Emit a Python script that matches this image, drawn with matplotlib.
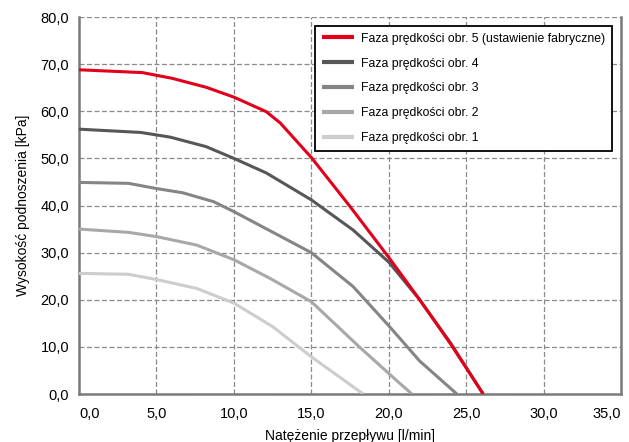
import matplotlib
matplotlib.use("Agg")
import matplotlib.pyplot as plt
from matplotlib.ticker import FuncFormatter

plt.rcParams['font.family'] = ['Liberation Sans', 'DejaVu Sans']

# Flow [l/min] and head [kPa] for each speed step
x5 = [0, 4.1, 6.0, 8.2, 10.0, 12.1, 13.0, 15.0, 17.5, 20.0, 22.0, 24.0, 26.1]
y5 = [68.8, 68.2, 67.0, 65.1, 63.0, 59.9, 57.5, 50.2, 39.8, 29.0, 20.0, 10.6, 0.0]

x4 = [0, 4.0, 5.9, 8.2, 10.0, 12.1, 15.0, 17.7, 20.0, 22.0, 24.0, 26.1]
y4 = [56.2, 55.5, 54.5, 52.5, 50.0, 46.9, 41.2, 34.8, 28.0, 20.0, 10.8, 0.0]

x3 = [0, 3.2, 5.0, 6.7, 8.7, 10.0, 15.0, 17.7, 20.0, 22.0, 24.4]
y3 = [44.9, 44.7, 43.6, 42.7, 40.8, 38.7, 30.0, 22.8, 14.5, 7.0, 0.0]

x2 = [0, 3.2, 5.0, 7.6, 10.0, 12.3, 15.0, 18.1, 20.7, 21.5]
y2 = [35.0, 34.3, 33.4, 31.6, 28.5, 24.6, 19.6, 10.0, 2.3, 0.0]

x1 = [0, 3.2, 5.0, 7.6, 10.0, 12.5, 15.0, 18.35]
y1 = [25.6, 25.4, 24.3, 22.4, 19.3, 14.3, 7.9, 0.0]

labels = ["Faza prędkości obr. 5 (ustawienie fabryczne)",
          "Faza prędkości obr. 4",
          "Faza prędkości obr. 3",
          "Faza prędkości obr. 2",
          "Faza prędkości obr. 1"]
colors = ['#e2001a', '#575757', '#858585', '#a8a8a8', '#cdcdcd']

fig = plt.figure(figsize=(6.29, 4.42), dpi=100)
ax = fig.add_axes([79/629, 1-394/442, 542/629, 377/442])

series = [(x5, y5), (x4, y4), (x3, y3), (x2, y2), (x1, y1)]
# lighter curves first so the red one sits on top
for i in range(len(series) - 1, -1, -1):
    xs, ys = series[i]
    ax.plot(xs, ys, color=colors[i], linewidth=2.2, label=labels[i],
            solid_capstyle='butt', zorder=3 + (5 - i))

ax.set_xlim(0, 35)
ax.set_ylim(0, 80)
ax.set_xticks([0, 5, 10, 15, 20, 25, 30, 35])
ax.set_yticks([0, 10, 20, 30, 40, 50, 60, 70, 80])
fmt = FuncFormatter(lambda v, p: f"{v:.1f}".replace('.', ','))
ax.xaxis.set_major_formatter(fmt)
ax.yaxis.set_major_formatter(fmt)
ax.tick_params(axis='x', length=0, labelsize=10.5, pad=9)
ax.tick_params(axis='y', length=0, labelsize=10.5, pad=7)
xt = ax.get_xticklabels()
xt[0].set_ha('left')
xt[-1].set_ha('right')

ax.grid(True, linestyle=(0, (4, 2)), color='#8a8a8a', linewidth=0.9)
ax.set_axisbelow(True)
ax.spines['top'].set_visible(False)
for s in ['left', 'bottom', 'right']:
    ax.spines[s].set_color('#7a7a7a')
    ax.spines[s].set_linewidth(1.8)

ax.set_xlabel("Natężenie przepływu [l/min]", fontsize=10, labelpad=6)
ax.set_ylabel("Wysokość podnoszenia [kPa]", fontsize=10, labelpad=8)

handles, labs = ax.get_legend_handles_labels()
handles, labs = handles[::-1], labs[::-1]
leg = ax.legend(handles, labs, loc='upper right', bbox_to_anchor=(0.983, 0.976),
                fontsize=8.8, frameon=True, fancybox=False, handlelength=2.6,
                borderpad=0.55, labelspacing=1.05, handletextpad=0.6,
                borderaxespad=0)
leg.get_frame().set_edgecolor('black')
leg.get_frame().set_linewidth(1.3)
leg.get_frame().set_alpha(1)
for line in leg.get_lines():
    line.set_linewidth(3)

fig.savefig("out.png", dpi=100)
